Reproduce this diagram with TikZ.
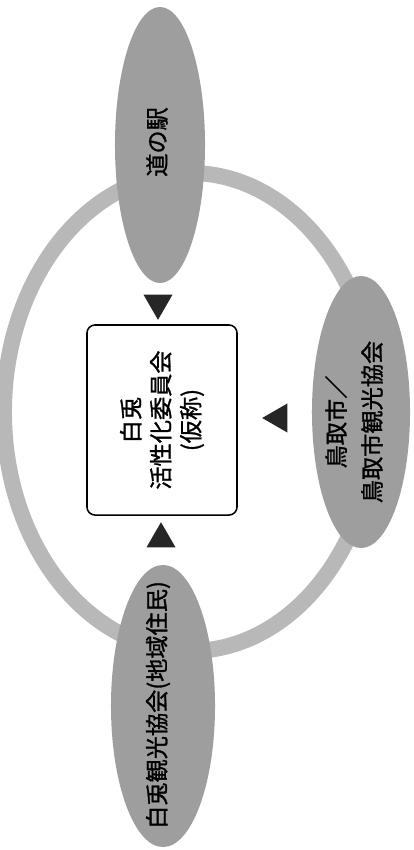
\documentclass[tikz,border=0pt]{standalone}
\usepackage{fontspec}
\setmainfont{Noto Sans CJK JP}[FakeBold=1.2]
\usetikzlibrary{shapes.geometric}
\definecolor{blobgray}{gray}{0.62}
\definecolor{ringgray}{gray}{0.72}

\begin{document}
\begin{tikzpicture}[x=0.025cm, y=-0.025cm,
    blob/.style={ellipse, fill=blobgray, inner sep=0pt, rotate=90},
    blobtext/.style={rotate=90, align=center, inner sep=0pt,
                     font=\fontsize{16.5}{25.5}\selectfont},
    pointer/.style={regular polygon, regular polygon sides=3, fill=black!85,
                    inner sep=0pt, minimum size=0.84cm}]
  \useasboundingbox (0,0) rectangle (414,850);
  % ring behind everything
  \draw[ringgray, line width=0.4cm] (190,412) ellipse [x radius=4.65cm, y radius=5.975cm];
  % partners
  \node[blob, minimum width=6.9cm, minimum height=2.25cm] (michi) at (160,145) {};
  \node[blob, minimum width=6.8cm, minimum height=2.45cm] (tottori) at (361,412) {};
  \node[blob, minimum width=7.05cm, minimum height=2.6cm] (kanko) at (163,706) {};
  \node[blobtext] (michi-t) at (157,142) {道の駅};
  \node[blobtext] (tottori-t) at (354,422) {鳥取市／\\鳥取市観光協会};
  \node[blobtext] (kanko-t) at (158,705) {白兎観光協会(地域住民)};
  % committee
  \node[draw=black, line width=1.1pt, rounded corners=0.2cm, fill=white, rotate=90,
        minimum width=4.75cm, minimum height=3.75cm, align=center,
        font=\fontsize{16.5}{21.3}\selectfont] (iinkai) at (162,420)
        {白兎\\活性化委員会\\(仮称)};
  % pointers toward the committee
  \node[pointer, shape border rotate=180] (p-top) at (158,303) {};
  \node[pointer] (p-bot) at (161,539) {};
  \node[pointer, shape border rotate=90] (p-right) at (279,418) {};
\end{tikzpicture}
\end{document}
